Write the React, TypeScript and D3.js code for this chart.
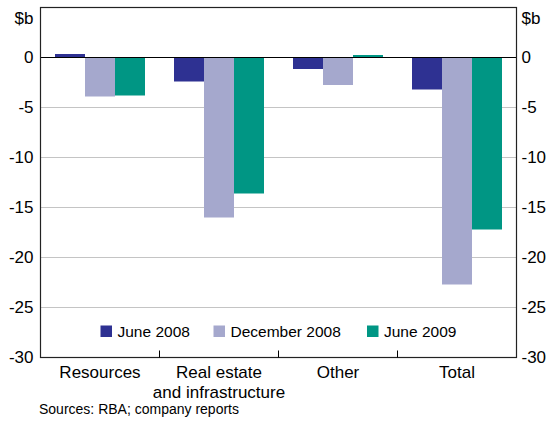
import React from "react";
import * as d3 from "d3";

const categories = ["Resources", "Real estate|and infrastructure", "Other", "Total"];
const seriesNames = ["June 2008", "December 2008", "June 2009"];
const june2008 = [0.35, -2.4, -1.15, -3.2];
const dec2008 = [-3.9, -16.0, -2.75, -22.7];
const june2009 = [-3.8, -13.6, 0.25, -17.2];
const yTicks = [0, -5, -10, -15, -20, -25, -30];
const colors = ["#2E3192", "#A5A8CD", "#009684"];

const W = 549, H = 423;
const L = 40.5, R = 516.5, T = 7.5, B = 357.5;
const font = "Liberation Sans, Arial, sans-serif";

export default function App() {
  const series = [june2008, dec2008, june2009];
  const x = d3.scaleBand<number>().domain(d3.range(categories.length)).range([L, R]);
  const inner = d3.scaleBand<number>().domain(d3.range(series.length)).range([0, 90]);
  const y = d3.scaleLinear().domain([-30, 5]).range([B, T]);
  const bw = x.bandwidth();
  const off = (bw - 90) / 2;

  const legendX = [100.5, 213.5, 367];
  return (
    <svg width={W} height={H} style={{ position: "absolute", left: 0, top: 0, background: "#fff" }} fontFamily={font}>
      {yTicks.filter((t) => t !== 0 && t !== -30).map((t) => (
        <line key={t} x1={L} x2={R} y1={y(t)} y2={y(t)} stroke="#c4c4c4" strokeWidth={1} />
      ))}
      {series.map((s, si) =>
        s.map((v, ci) => (
          <rect key={si + "-" + ci}
            x={(x(ci) as number) + off + (inner(si) as number)}
            width={inner.bandwidth()}
            y={Math.min(y(v), y(0))}
            height={Math.abs(y(v) - y(0))}
            fill={colors[si]} />
        ))
      )}
      <line x1={L} x2={R} y1={y(0)} y2={y(0)} stroke="#000" strokeWidth={1} />
      <rect x={L} y={T} width={R - L} height={B - T} fill="none" stroke="#222" strokeWidth={1.2} />
      {d3.range(1, categories.length).map((i) => (
        <line key={i} x1={x(i)} x2={x(i)} y1={B} y2={B - 7} stroke="#000" strokeWidth={1} />
      ))}
      {yTicks.map((t) => (
        <g key={t}>
          <text x={33.5} y={y(t)} dy="0.35em" textAnchor="end" fontSize={17} fill="#000">{t}</text>
          <text x={521.5} y={y(t)} dy="0.35em" textAnchor="start" fontSize={17} fill="#000">{t}</text>
        </g>
      ))}
      <text x={33.5} y={18.5} dy="0.35em" textAnchor="end" fontSize={17}>$b</text>
      <text x={521.5} y={18.5} dy="0.35em" textAnchor="start" fontSize={17}>$b</text>
      {categories.map((c, i) =>
        c.split("|").map((line, li) => (
          <text key={i + "-" + li} x={(x(i) as number) + bw / 2} y={372 + li * 20} dy="0.35em"
            textAnchor="middle" fontSize={17}>{line}</text>
        ))
      )}
      {seriesNames.map((n, i) => (
        <g key={n}>
          <rect x={legendX[i]} y={325.5} width={11.5} height={11.5} fill={colors[i]} />
          <text x={legendX[i] + 17} y={331.5} dy="0.35em" fontSize={15.5}>{n}</text>
        </g>
      ))}
      <text x={39} y={409.5} dy="0.35em" fontSize={14}>Sources: RBA; company reports</text>
    </svg>
  );
}
